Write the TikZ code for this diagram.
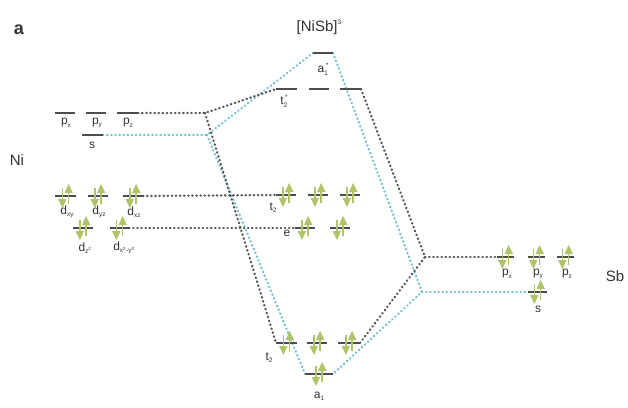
\documentclass[tikz,border=0pt]{standalone}
\usepackage{fontspec}
\setmainfont{Liberation Sans}
\definecolor{dkc}{HTML}{555555}
\definecolor{blc}{HTML}{72C2D4}
\definecolor{levc}{HTML}{4D4D4D}
\definecolor{elc}{HTML}{AFC466}
\definecolor{txc}{HTML}{333333}
\newcommand\sbx[1]{\raisebox{-0.35ex}{\fontsize{6.5}{6.5}\selectfont #1}}
\newcommand\spx[1]{\raisebox{0.9ex}{\fontsize{6.5}{6.5}\selectfont #1}}
\newcommand\epair[2]{%
  \draw[elc, line width=1.2pt] (#1-3,#2-8) -- (#1-3,#2+5);
  \fill[elc] (#1-3,#2+12) -- (#1-7.5,#2+3) -- (#1+1,#2+3) -- cycle;
  \draw[elc, line width=1.2pt] (#1+3,#2+8) -- (#1+3,#2-5);
  \fill[elc] (#1+3,#2-12) -- (#1-1,#2-3) -- (#1+7.5,#2-3) -- cycle;
}
\tikzset{
  dkline/.style={dkc, line width=2.3pt, dash pattern=on 0.5pt off 3.6pt, line cap=round, line join=round},
  blline/.style={blc, line width=2.3pt, dash pattern=on 0.5pt off 3.6pt, line cap=round, line join=round},
  lvl/.style={levc, line width=1.3pt},
  lab/.style={txc, font=\fontsize{12}{12}\selectfont, inner sep=0pt},
  big/.style={txc, font=\fontsize{15}{15}\selectfont, inner sep=0pt}
}
\begin{document}
\begin{tikzpicture}[x=1pt,y=-1pt]
\useasboundingbox[fill=white] (0,0) rectangle (628,407);
% ---- level end points ----
% Ni
\coordinate (NpxL) at (55,113);  \coordinate (NpxR) at (75,113);
\coordinate (NpyL) at (86,113);  \coordinate (NpyR) at (106,113);
\coordinate (NpzL) at (117,113); \coordinate (NpzR) at (138,113);
\coordinate (NsL) at (82,135);   \coordinate (NsR) at (103,135);
\coordinate (dxyL) at (55,196);  \coordinate (dxyR) at (76,196);
\coordinate (dyzL) at (88,196);  \coordinate (dyzR) at (108,196);
\coordinate (dxzL) at (123,196); \coordinate (dxzR) at (143,196);
\coordinate (dzL) at (73,228);   \coordinate (dzR) at (93,228);
\coordinate (dxyyL) at (110,228);\coordinate (dxyyR) at (129,228);
% molecule
\coordinate (asL) at (313,53);   \coordinate (asR) at (333,53);
\coordinate (tsAL) at (276,89);  \coordinate (tsAR) at (297,89);
\coordinate (tsBL) at (309,89);  \coordinate (tsBR) at (329,89);
\coordinate (tsCL) at (340,89);  \coordinate (tsCR) at (361,89);
\coordinate (tmAL) at (276,195); \coordinate (tmAR) at (296,195);
\coordinate (tmBL) at (308,195); \coordinate (tmBR) at (328,195);
\coordinate (tmCL) at (340,195); \coordinate (tmCR) at (360,195);
\coordinate (eAL) at (295,228);  \coordinate (eAR) at (315,228);
\coordinate (eBL) at (330,228);  \coordinate (eBR) at (350,228);
\coordinate (tbAL) at (276,343); \coordinate (tbAR) at (297,343);
\coordinate (tbBL) at (307,343); \coordinate (tbBR) at (327,343);
\coordinate (tbCL) at (338,343); \coordinate (tbCR) at (360,343);
\coordinate (aL) at (305,374);   \coordinate (aR) at (333,374);
% Sb
\coordinate (SpxL) at (497,257); \coordinate (SpxR) at (514,257);
\coordinate (SpyL) at (528,257); \coordinate (SpyR) at (545,257);
\coordinate (SpzL) at (557,257); \coordinate (SpzR) at (574,257);
\coordinate (SsL) at (528,292);  \coordinate (SsR) at (547,292);
% junctions
\coordinate (JL1) at (205,113);
\coordinate (JL2) at (207,135);
\coordinate (JR1) at (425,257);
\coordinate (JR2) at (422,292);
% ---- correlation lines ----
\draw[blline] (NsR) -- (JL2) -- (asL);
\draw[blline] (JL2) -- (aL);
\draw[blline] (asR) -- (JR2) -- (aR);
\draw[blline] (JR2) -- (SsL);
\draw[dkline] (NpzR) -- (JL1) -- (tsAL);
\draw[dkline] (JL1) -- (tbAL);
\draw[dkline] (tsCR) -- (JR1) -- (tbCR);
\draw[dkline] (JR1) -- (SpxL);
\draw[dkline] (dxzR) -- (tmAL);
\draw[dkline] (dxyyR) -- (eAL);
% ---- levels ----
\foreach \a/\b in {NpxL/NpxR,NpyL/NpyR,NpzL/NpzR,NsL/NsR,dxyL/dxyR,dyzL/dyzR,dxzL/dxzR,dzL/dzR,dxyyL/dxyyR,
  asL/asR,tsAL/tsAR,tsBL/tsBR,tsCL/tsCR,tmAL/tmAR,tmBL/tmBR,tmCL/tmCR,eAL/eAR,eBL/eBR,
  tbAL/tbAR,tbBL/tbBR,tbCL/tbCR,aL/aR,SpxL/SpxR,SpyL/SpyR,SpzL/SpzR,SsL/SsR}
  \draw[lvl] (\a) -- (\b);
% ---- electrons ----
\epair{65.5}{196}\epair{98}{196}\epair{133}{196}
\epair{83}{228}\epair{119.5}{228}
\epair{286}{195}\epair{318}{195}\epair{350}{195}
\epair{305}{228}\epair{340}{228}
\epair{286.5}{343}\epair{317}{343}\epair{349}{343}
\epair{319}{374}
\epair{505.5}{257}\epair{536.5}{257}\epair{565.5}{257}
\epair{537.5}{292}
% ---- labels ----
\node[txc, font=\bfseries\fontsize{18}{18}\selectfont, inner sep=0pt] (lblA) at (19,30) {a};
\node[big] (lblNi) at (17,160) {Ni};
\node[big] (lblSb) at (615,276) {Sb};
\node[big] (lblM) at (320,27) {[NiSb]\spx{3-}};
\node[lab] (lpx) at (66,123) {p\sbx{x}};
\node[lab] (lpy) at (97,123) {p\sbx{y}};
\node[lab] (lpz) at (128,123) {p\sbx{z}};
\node[lab] (ls) at (92,145) {s};
\node[lab] (ldxy) at (67,212) {d\sbx{xy}};
\node[lab] (ldyz) at (99,212) {d\sbx{yz}};
\node[lab] (ldxz) at (134,212) {d\sbx{xz}};
\node[lab] (ldz) at (85,248) {d\sbx{z\textsuperscript{2}}};
\node[lab] (ldxyy) at (124,248) {d\sbx{x\textsuperscript{2}-y\textsuperscript{2}}};
\node[lab] (las) at (323,69) {a\sbx{1}\hspace{-2pt}\spx{*}};
\node[lab] (lts) at (284,101) {t\sbx{2}\hspace{-2pt}\spx{*}};
\node[lab] (ltm) at (273,208) {t\sbx{2}};
\node[lab] (le) at (287,233) {e};
\node[lab] (ltb) at (269,358) {t\sbx{2}};
\node[lab] (la) at (319,396) {a\sbx{1}};
\node[lab] (lSpx) at (507,274) {p\sbx{x}};
\node[lab] (lSpy) at (538,274) {p\sbx{y}};
\node[lab] (lSpz) at (567,274) {p\sbx{z}};
\node[lab] (lSs) at (538,309) {s};
\end{tikzpicture}
\end{document}
